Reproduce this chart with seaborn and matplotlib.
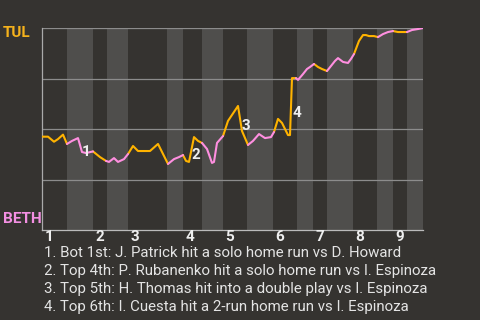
import numpy as np
import pandas as pd
import matplotlib
matplotlib.use("Agg")
import matplotlib.pyplot as plt
import matplotlib.transforms as mtransforms
import seaborn as sns

# ---- data ----
# game progress (timeline units) and TUL win probability (%)
progress = [0, 6, 12, 16, 21, 25, 30, 36, 40, 44, 51, 58, 64, 67, 72, 76, 82, 86, 91, 96,
            108, 116, 126, 132, 137, 141, 144, 147, 152, 156, 160, 165, 170, 172, 175, 181,
            186, 196, 200, 206, 211, 217, 223, 229, 232, 236, 240, 246, 248, 250, 254, 256,
            261, 265, 268, 272, 276, 280, 285, 289, 293, 296, 301, 306, 309, 312, 317, 321,
            324, 327, 332, 336, 341, 346, 351, 356, 365, 370, 376, 381]
tul_wp = [46.2, 46.2, 43.7, 45.0, 47.2, 42.6, 44.1, 45.5, 38.6, 38.1, 38.9, 36.1, 34.2, 33.7,
          35.6, 33.7, 35.1, 37.6, 41.6, 39.1, 39.1, 42.6, 32.7, 35.1, 36.1, 37.1, 34.2, 33.7,
          46.0, 44.1, 43.1, 40.1, 33.2, 33.7, 43.1, 46.5, 54.0, 61.4, 49.0, 42.1, 44.1, 47.5,
          45.5, 46.0, 48.5, 55.0, 53.0, 47.0, 47.0, 75.2, 75.2, 74.3, 77.2, 79.7, 80.7, 82.2,
          80.7, 79.7, 78.7, 81.2, 83.7, 85.1, 83.2, 82.7, 84.7, 87.1, 93.6, 96.5, 96.5, 96.0,
          96.0, 95.5, 97.0, 98.0, 98.5, 98.0, 98.0, 99.0, 99.5, 100.0]
# half-inning boundaries (top 1st start ... bottom 9th end)
half_bounds = [0, 25, 51, 65, 86, 125, 141, 160, 181, 205, 231, 255, 271, 285, 311, 335,
               351, 365, 381]
inning_labels = ["1", "2", "3", "4", "5", "6", "7", "8", "9"]
note_labels = ["1", "2", "3", "4"]
note_x = [44, 154, 204, 254.5]
note_y = [38.8, 37.1, 51.5, 57.9]
notes = [
    "1. Bot 1st: J. Patrick hit a solo home run vs D. Howard",
    "2. Top 4th: P. Rubanenko hit a solo home run vs I. Espinoza",
    "3. Top 5th: H. Thomas hit into a double play vs I. Espinoza",
    "4. Top 6th: I. Cuesta hit a 2-run home run vs I. Espinoza",
]
teams = ["TUL", "BETH"]

# ---- style ----
BG = "#353330"
LIGHT = "#4f4e4c"
ORANGE = "#ffb300"
PINK = "#ff8fe0"
TXT = "#eeeeee"

sns.set_theme(style="dark")
plt.rcParams["font.family"] = ["Roboto", "DejaVu Sans"]

fig = plt.figure(figsize=(4.8, 3.2), dpi=100, facecolor=BG)
ax = fig.add_axes([42 / 480, 90 / 320, 381 / 480, 202 / 320])
ax.set_facecolor(BG)

# stripes for bottom halves
for i in range(1, len(half_bounds) - 1, 2):
    ax.axvspan(half_bounds[i], half_bounds[i + 1], color=LIGHT, lw=0, zorder=0)

# grid lines
for gy in [25, 50, 75, 100]:
    ax.axhline(gy, color="#8c8c8c", lw=0.9, zorder=1)

# build segments by half-inning
rows = []
seg = 0
prev_half = None
for i in range(len(progress) - 1):
    mid = (progress[i] + progress[i + 1]) / 2
    half = int(np.searchsorted(half_bounds, mid, side="right") - 1)
    bat = teams[half % 2]
    if half != prev_half:
        seg += 1
        rows.append(dict(x=progress[i], y=tul_wp[i], seg=seg, bat=bat))
        prev_half = half
    rows.append(dict(x=progress[i + 1], y=tul_wp[i + 1], seg=seg, bat=bat))
df = pd.DataFrame(rows)

sns.lineplot(data=df, x="x", y="y", hue="bat", units="seg", estimator=None, sort=False,
             palette={"TUL": ORANGE, "BETH": PINK}, lw=1.5, legend=False, ax=ax, zorder=3)

for lab, xx, yy in zip(note_labels, note_x, note_y):
    ax.text(xx, yy, lab, color=TXT, fontsize=11, fontweight="bold", ha="center",
            va="center", zorder=4)

ax.set_xlim(0, 381)
ax.set_ylim(0, 100)
ax.set_xticks([])
ax.set_yticks([])
ax.set_xlabel("")
ax.set_ylabel("")
for s in ["top", "right"]:
    ax.spines[s].set_visible(False)
ax.spines["left"].set_color("#aaaaaa")
ax.spines["bottom"].set_color("#bbbbbb")
ax.spines["left"].set_linewidth(0.9)
ax.spines["bottom"].set_linewidth(0.9)

trans = mtransforms.blended_transform_factory(ax.transData, ax.transAxes)
for k, lab in enumerate(inning_labels):
    ax.text(half_bounds[2 * k] + 2.5, -0.036, lab, transform=trans, color=TXT,
            fontsize=11, fontweight="bold", ha="left", va="center")

fig.text(3 / 480, 1 - 33 / 320, teams[0], color="#f5b21c", fontsize=11, fontweight="bold",
         ha="left", va="center")
fig.text(3 / 480, 1 - 219 / 320, teams[1], color="#f38fe2", fontsize=11, fontweight="bold",
         ha="left", va="center")

for k, line in enumerate(notes):
    fig.text(44 / 480, 1 - (253 + 18 * k) / 320, line, color="#e4e4e4", fontsize=10.8,
             ha="left", va="center")

fig.savefig("out.png", dpi=100, facecolor=BG)
